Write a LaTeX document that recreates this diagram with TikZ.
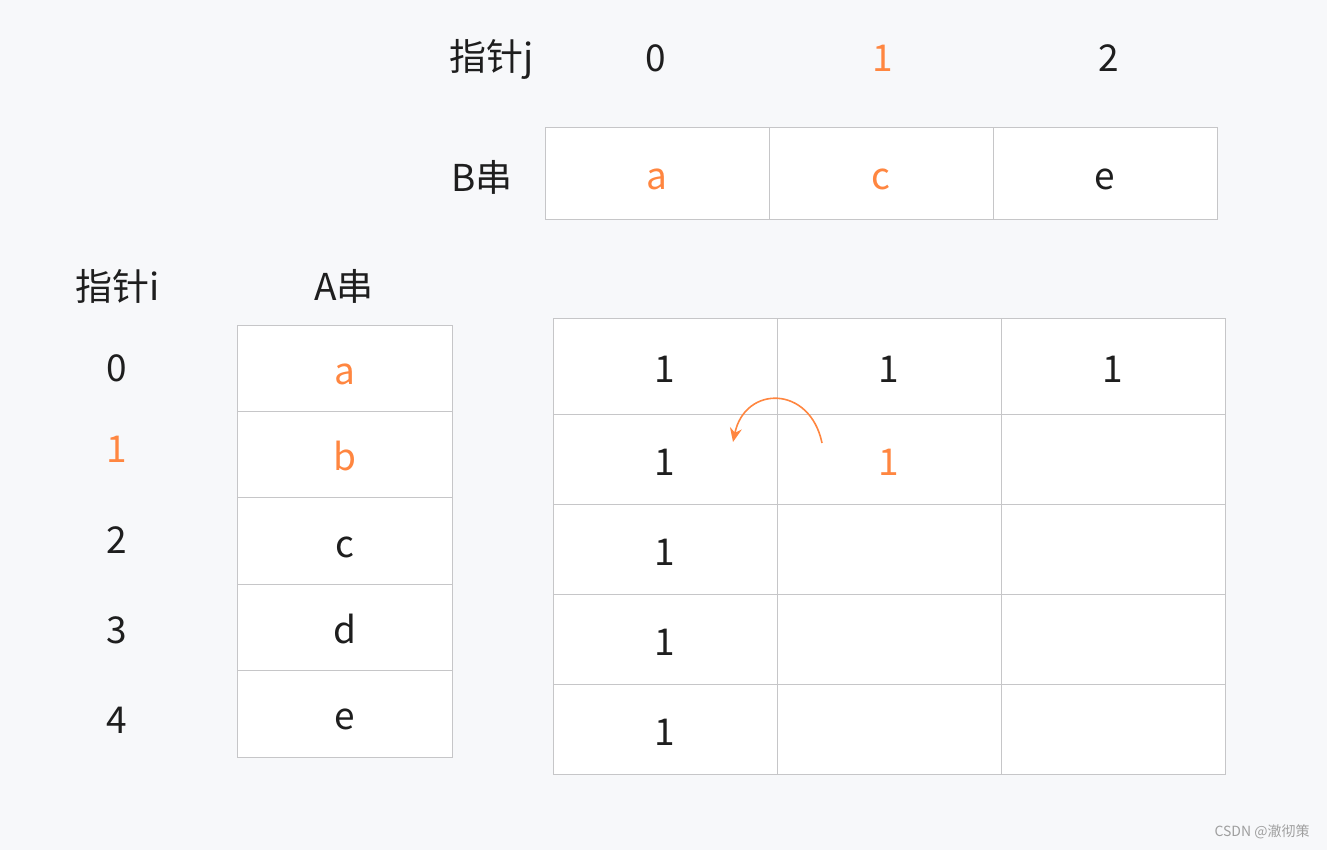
\documentclass[tikz,border=0pt]{standalone}
\usepackage{fontspec}
\setmainfont{Noto Sans CJK SC}
\usetikzlibrary{arrows.meta}
\definecolor{pagebg}{HTML}{F7F8FA}
\definecolor{linegray}{HTML}{C6C6C8}
\definecolor{hot}{HTML}{FF8640}
\definecolor{ink}{HTML}{1E1E1E}

\tikzset{
  cell/.style={draw=linegray, line width=0.5pt, fill=white, inner sep=0pt, text=ink,
    text height=17pt, text depth=1pt},
  lbl/.style={text=ink},
}

\begin{document}
\begin{tikzpicture}[x=0.5pt,y=-0.5pt,font=\fontsize{18.5}{22}\selectfont]
\fill[pagebg] (0,0) rectangle (1327,850);
\useasboundingbox (0,0) rectangle (1327,850);

% B string with pointer j
\node[lbl] (ptrj) at (492,59) {指针j};
\node[lbl] (bstr) at (482,177) {B串};
\foreach \x/\t/\c [count=\k from 0] in {656/0/ink,883/1/hot,1109/2/ink}
  \node[text=\c] (j\k) at (\x,58) {\t};
\foreach \ch/\c [count=\k from 0] in {a/hot,c/hot,e/ink}
  \node[cell, minimum width=112pt, minimum height=46pt, text=\c] (b\k) at (657+224*\k,174) {\ch};

% A string with pointer i
\node[lbl] (ptri) at (118,286) {指针i};
\node[lbl] (astr) at (344,286) {A串};
\foreach \y/\c [count=\k from 0] in {368/ink,449/hot,540/ink,630/ink,720/ink}
  \node[text=\c] (i\k) at (117,\y) {\k};
\foreach \ch/\c [count=\k from 0] in {a/hot,b/hot,c/ink,d/ink,e/ink}
  \node[cell, minimum width=107.5pt, minimum height=43.2pt, text=\c] (a\k) at (344.5,368.2+86.4*\k) {\ch};

% dp table
\foreach \c [count=\k from 0] in {0,1,2}
  \node[cell, minimum width=112pt, minimum height=48pt] (dp-0-\k) at (665+224*\k,366) {1};
\foreach \r in {1,2,3,4}{
  \node[cell, minimum width=112pt, minimum height=45pt] (dp-\r-0) at (665,369+90*\r) {1};
  \node[cell, minimum width=112pt, minimum height=45pt] (dp-\r-1) at (889,369+90*\r) {};
  \node[cell, minimum width=112pt, minimum height=45pt] (dp-\r-2) at (1113,369+90*\r) {};
}
\node[text=hot, text height=17pt, text depth=1pt, inner sep=0pt] (dpval) at (dp-1-1) {1};

% copy from the left
\coordinate (arrs) at (822,443);
\coordinate (arre) at (733,442);
\draw[hot, line width=0.8pt, -{Stealth[length=7pt,width=6pt]}] (arrs) .. controls (810,385) and (745,385) .. (arre);

\node[text=gray!75, font=\fontsize{7}{8}\selectfont] (mark) at (1262,832) {CSDN @澈彻策};
\end{tikzpicture}
\end{document}
